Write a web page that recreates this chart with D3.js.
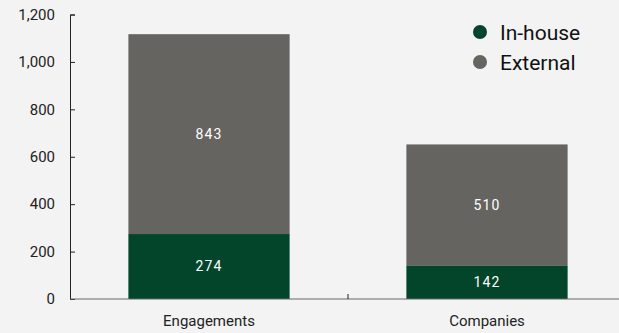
<!DOCTYPE html>
<html>
<head>
<meta charset="utf-8">
<script src="https://cdn.jsdelivr.net/npm/d3@7"></script>
<style>
  html, body { margin: 0; padding: 0; background: #f3f3f3; }
  svg { display: block; }
</style>
</head>
<body>
<div id="chart"></div>
<script>
const categories = ["Engagements", "Companies"];
const inHouse = [274, 142];
const external = [843, 510];
const seriesNames = ["In-house", "External"];
const yTicks = [0, 200, 400, 600, 800, 1000, 1200];

const width = 619;
const height = 333;
const font = "Roboto, 'Liberation Sans', sans-serif";
const color = d3.scaleOrdinal().domain(seriesNames).range(["#02452a", "#666461"]);

const svg = d3.select("#chart").append("svg")
    .attr("width", width)
    .attr("height", height);

const xScale = d3.scaleBand().domain(categories).range([70, 626]).paddingInner(0.42).paddingOuter(0.21);
const yScale = d3.scaleLinear().domain([0, 1200]).range([299, 14.5]);

// stack the two series
const rows = categories.map((c, i) => ({ cat: c, "In-house": inHouse[i], "External": external[i] }));
const stacked = d3.stack().keys(seriesNames)(rows);

const groups = svg.append("g").selectAll("g")
    .data(stacked).enter()
    .append("g")
    .style("fill", d => color(d.key));

groups.selectAll("rect")
    .data(d => d.map(v => ({ key: d.key, v: v })))
    .enter().append("rect")
    .attr("x", d => xScale(d.v.data.cat))
    .attr("width", xScale.bandwidth())
    .attr("y", d => yScale(d.v[1]))
    .attr("height", d => yScale(d.v[0]) - yScale(d.v[1]));

groups.selectAll("text")
    .data(d => d.map(v => ({ key: d.key, v: v })))
    .enter().append("text")
    .attr("x", d => xScale(d.v.data.cat) + xScale.bandwidth() / 2)
    .attr("y", d => (yScale(d.v[0]) + yScale(d.v[1])) / 2)
    .attr("dy", "0.35em")
    .attr("text-anchor", "middle")
    .style("fill", "#ffffff")
    .style("font-family", font)
    .style("font-size", "14px")
    .style("letter-spacing", "1.2px")
    .text(d => d.v[1] - d.v[0]);

// y axis
const yAxis = d3.axisRight(yScale).tickValues(yTicks).tickSize(5).tickFormat(d3.format(","));
const yg = svg.append("g").attr("transform", "translate(70,0)").call(yAxis);
yg.select(".domain").attr("stroke", "#222").attr("stroke-width", 1);
yg.selectAll(".tick line").attr("stroke", "#222");
yg.selectAll(".tick text")
    .attr("x", -15)
    .attr("text-anchor", "end")
    .style("font-family", font)
    .style("font-size", "15px")
    .style("fill", "#222");

// x axis
const xg = svg.append("g").attr("transform", "translate(0,299)");
xg.append("line").attr("x1", 70).attr("x2", 626).attr("stroke", "#666").attr("stroke-width", 1);
const mid = (xScale(categories[0]) + xScale.bandwidth() + xScale(categories[1])) / 2;
xg.append("line").attr("x1", mid).attr("x2", mid).attr("y1", 0).attr("y2", -5).attr("stroke", "#222");
xg.selectAll("text")
    .data(categories).enter()
    .append("text")
    .attr("x", d => xScale(d) + xScale.bandwidth() / 2)
    .attr("y", 27)
    .attr("text-anchor", "middle")
    .style("font-family", font)
    .style("font-size", "15px")
    .style("fill", "#222")
    .text(d => d);

// legend
const legend = svg.append("g").selectAll("g")
    .data(seriesNames).enter()
    .append("g")
    .attr("transform", (d, i) => `translate(480,${32 + i * 30})`);
legend.append("circle").attr("r", 7).style("fill", d => color(d));
legend.append("text")
    .attr("x", 20)
    .attr("dy", "0.36em")
    .style("font-family", font)
    .style("font-size", "21px")
    .style("fill", "#111")
    .text(d => d);
</script>
</body>
</html>
